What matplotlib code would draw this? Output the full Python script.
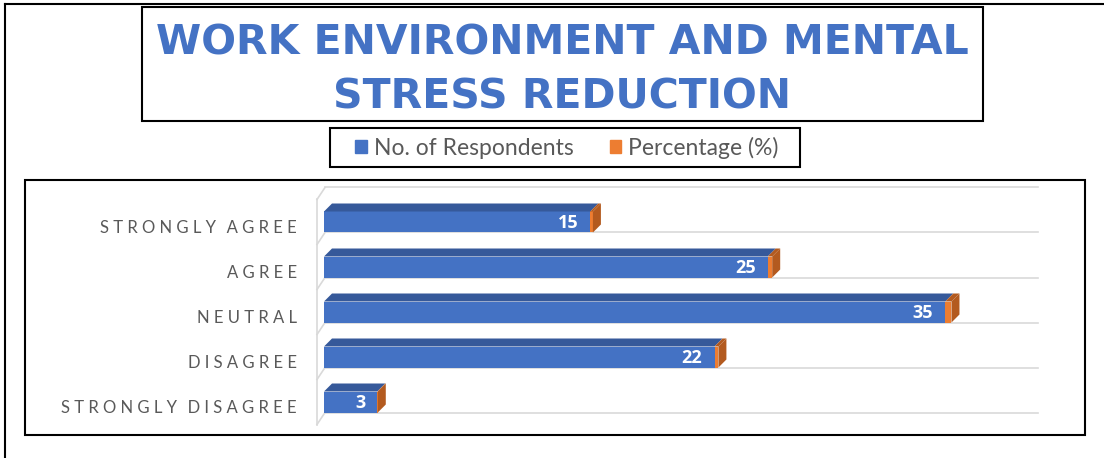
import matplotlib.pyplot as plt
from matplotlib.patches import Rectangle, Polygon
from matplotlib.lines import Line2D
import matplotlib.patches as mpatches

# data (bottom to top)
categories = ['STRONGLY DISAGREE', 'DISAGREE', 'NEUTRAL', 'AGREE', 'STRONGLY AGREE']
respondents = [3, 22, 35, 25, 15]
percentage = [0.03, 0.22, 0.35, 0.25, 0.15]

blue = '#4472C4'
blue_top = '#36599A'
orange = '#ED7D31'
orange_side = '#B35A1F'
label_col = '#595959'

W, H = 1104, 458
fig = plt.figure(figsize=(W / 100, H / 100), dpi=100)


def px(x0, y0, x1, y1):
    # pixel box -> figure fraction [l, b, w, h]
    return [x0 / W, 1 - y1 / H, (x1 - x0) / W, (y1 - y0) / H]


# outer frame lines (top + left)
fig.add_artist(Line2D([5 / W, 1], [1 - 4 / H, 1 - 4 / H], color='black', lw=1.5))
fig.add_artist(Line2D([5 / W, 5 / W], [0, 1 - 4 / H], color='black', lw=1.5))

# title box
b = px(142, 7, 983, 121)
fig.add_artist(Rectangle((b[0], b[1]), b[2], b[3], fill=False, ec='black', lw=1.5))
fig.text(562 / W, 1 - 43.5 / H, 'WORK ENVIRONMENT AND MENTAL', ha='center', va='center',
         fontsize=29.5, fontweight='bold', color=blue, family='DejaVu Sans')
fig.text(562 / W, 1 - 97.5 / H, 'STRESS REDUCTION', ha='center', va='center',
         fontsize=29.5, fontweight='bold', color=blue, family='DejaVu Sans')

# plot area box
b = px(25, 180, 1085, 435)
fig.add_artist(Rectangle((b[0], b[1]), b[2], b[3], fill=False, ec='black', lw=1.5))

# legend box + legend
b = px(330, 128, 800, 167)
fig.add_artist(Rectangle((b[0], b[1]), b[2], b[3], fill=False, ec='black', lw=1.5))
handles = [mpatches.Patch(color=blue, label='No. of Respondents'),
           mpatches.Patch(color=orange, label='Percentage (%)')]
leg = fig.legend(handles=handles, loc='center', bbox_to_anchor=(567 / W, 1 - 148 / H),
                 ncol=2, frameon=False,
                 prop={'family': 'Lato', 'size': 16.5}, labelcolor=label_col,
                 handlelength=0.5, handleheight=0.5, handletextpad=0.3,
                 columnspacing=1.6, borderpad=0, borderaxespad=0)

# axes: x=0 at pixel 324, 17.75 px per unit; y=4 at pixel 222, 45 px per unit
ax = fig.add_axes(px(300, 184, 1055, 433))
ax.set_xlim((300 - 324) / 17.75, (1055 - 324) / 17.75)
ax.set_ylim(4 - (433 - 222) / 45, 4 - (184 - 222) / 45)
ax.axis('off')

ux = 1 / 17.75   # data units per pixel (x)
uy = 1 / 45      # data units per pixel (y)
dx, dy = 8 * ux, 8 * uy        # bar depth
gx, gy = 8 * ux, 12 * uy       # back wall offset
h = 21 * uy
xmax = 40.2

# back gridlines and left wall
for k in range(len(categories) + 1):
    yb = k - 0.5
    ax.plot([-7 * ux, 0 + gx - 7 * ux], [yb, yb + gy], color='#D9D9D9', lw=1.2, zorder=1)
    ax.plot([gx - 7 * ux, xmax], [yb + gy, yb + gy], color='#D9D9D9', lw=1.2, zorder=1)
ax.plot([-7 * ux, -7 * ux], [-0.5, len(categories) - 0.5], color='#D9D9D9', lw=1.2, zorder=1)

for i, (cat, r, p) in enumerate(zip(categories, respondents, percentage)):
    y0 = i - h / 2
    y1 = i + h / 2
    end = r + p
    # front faces
    ax.barh(i, r, height=h, color=blue, zorder=3)
    ax.barh(i, p, left=r, height=h, color=orange, zorder=3)
    # top face
    ax.add_patch(Polygon([(0, y1), (r, y1), (r + dx, y1 + dy), (dx, y1 + dy)],
                         closed=True, color=blue_top, zorder=3, lw=0))
    ax.add_patch(Polygon([(r, y1), (end, y1), (end + dx, y1 + dy), (r + dx, y1 + dy)],
                         closed=True, color=orange_side, zorder=3, lw=0))
    # side face
    ax.add_patch(Polygon([(end, y0), (end, y1), (end + dx, y1 + dy), (end + dx, y0 + dy)],
                         closed=True, color=orange_side, zorder=3, lw=0))
    # value label
    ax.text(r - 12 * ux, i - 1 * uy, str(r), ha='right', va='center', color='white',
            fontsize=13, fontweight='bold', family='Open Sans', zorder=4)
    # category label
    spaced = '\u2009\u2009'.join(cat.replace(' ', '\u2009'))
    ax.text(-27 * ux, i - 6 * uy, spaced, ha='right',
            va='center', color=label_col, fontsize=12, family=['Lato', 'DejaVu Sans'],
            zorder=4, clip_on=False)

fig.savefig('out.png', dpi=100)
